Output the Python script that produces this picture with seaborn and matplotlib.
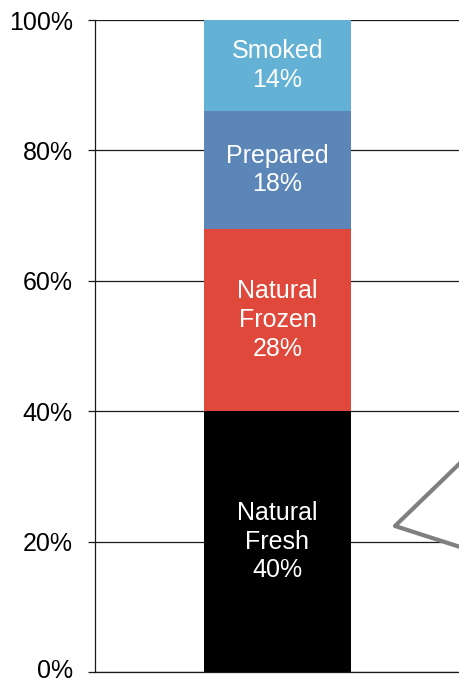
import numpy as np
import pandas as pd
import matplotlib
matplotlib.use("Agg")
import matplotlib.pyplot as plt
import matplotlib.transforms as mtransforms
from matplotlib.patches import Polygon
import seaborn as sns

# Product mix shares (percent), stacked bottom to top
segments = ["Natural\nFresh", "Natural\nFrozen", "Prepared", "Smoked"]
shares = [40, 28, 18, 14]
colors = ["#000000", "#E0483C", "#5B86B7", "#63B1D5"]
y_ticks = [0, 20, 40, 60, 80, 100]
y_tick_labels = ["0%", "20%", "40%", "60%", "80%", "100%"]

sns.set_theme(style="white")
plt.rcParams["font.family"] = ["Liberation Sans", "DejaVu Sans"]

fig = plt.figure(figsize=(4.6, 6.82), dpi=100)
ax = fig.add_axes([95 / 460, 10 / 682, 1 - 95 / 460, 652 / 682])

tops = np.cumsum(shares)
bottoms = tops - np.array(shares)

# stacked column: draw cumulative totals from tallest to shortest
for i in reversed(range(len(shares))):
    df = pd.DataFrame({"cat": ["All"], "val": [tops[i]]})
    sns.barplot(data=df, x="cat", y="val", color=colors[i], saturation=1,
                width=0.403, ax=ax, zorder=2, linewidth=0)

for seg, share, b in zip(segments, shares, bottoms):
    ax.text(0, b + share / 2, f"{seg}\n{share}%", ha="center", va="center",
            color="white", fontsize=18, linespacing=1.25, zorder=3)

ax.set_xlim(-0.5, 0.5)
ax.set_ylim(0, 100)
ax.set_yticks(y_ticks)
ax.set_yticklabels(y_tick_labels, fontsize=18, color="black")
ax.set_xticks([])
ax.set_xlabel("")
ax.set_ylabel("")
ax.yaxis.grid(True, color="#1a1a1a", linewidth=0.9, zorder=0)
ax.set_axisbelow(True)
ax.tick_params(axis="y", which="both", left=True, length=5, width=0.9,
               color="#1a1a1a", pad=11)

# keep the bottom label inside the canvas
lbl0 = ax.get_yticklabels()[0]
lbl0.set_transform(lbl0.get_transform() +
                   mtransforms.ScaledTranslation(0, 3 / 100, fig.dpi_scale_trans))

for side in ["top", "right"]:
    ax.spines[side].set_visible(False)
for side in ["left", "bottom"]:
    ax.spines[side].set_visible(True)
    ax.spines[side].set_color("#1a1a1a")
    ax.spines[side].set_linewidth(0.9)

# callout pointer entering from the right
pts_px = [(395, 526), (485, 439), (485, 555)]
pts = [((x - 95) / 365, (672 - y) / 652) for x, y in pts_px]
callout = Polygon(pts, closed=True, facecolor="white", edgecolor="#7F7F7F",
                  linewidth=3.0, joinstyle="round", transform=ax.transAxes,
                  clip_on=False, zorder=4)
ax.add_patch(callout)

fig.savefig("out.png", dpi=100)
